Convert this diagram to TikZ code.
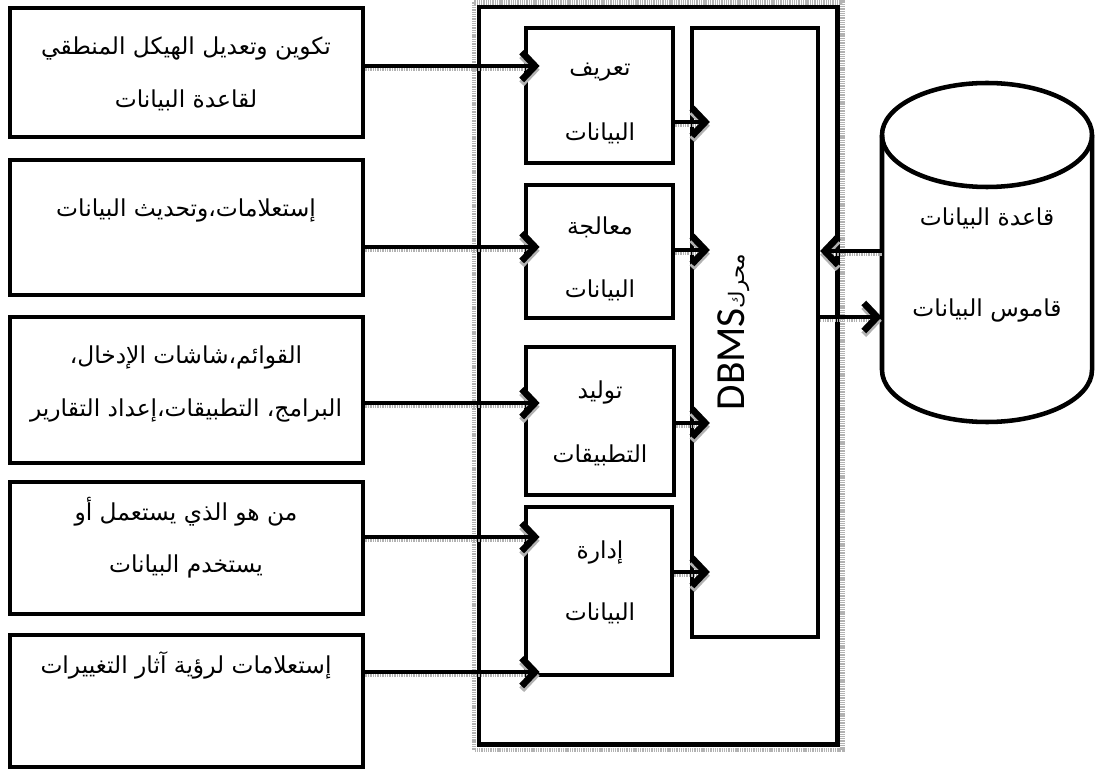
\documentclass[tikz,border=0pt]{standalone}
\usepackage{fontspec}
\setmainfont{DejaVu Sans}
\newfontfamily\arabicfont[Script=Arabic]{DejaVu Sans}
\newfontfamily\latinfont{Carlito}
\TeXXeTstate=1
\usetikzlibrary{arrows.meta,fit}
\tikzset{
  box/.style={draw, line width=3.6pt, inner sep=0pt},
  area/.style={inner sep=0pt},
  txt/.style={font=\arabicfont\fontsize{17.5}{20}\selectfont, inner sep=0pt, anchor=center},
  arr/.style={line width=3.4pt, -{Straight Barb[length=10pt,width=21pt,line width=5pt]},
    preaction={draw=gray!60, line width=2.4pt, dash pattern=on 1pt off 0.8pt,
      transform canvas={yshift=-2.8pt}}},
  into/.style={shorten >=-#1},
  cyl/.style={line width=3.4pt, line join=round},
  shadowband/.style={draw=gray!60, line width=3.2pt, dash pattern=on 1pt off 0.7pt},
}
\begin{document}
\begin{tikzpicture}[x=0.75pt,y=-0.75pt]
\useasboundingbox (0,0) rectangle (1098,773);

% left boxes
\node[box, fit={(10,8) (363,137)}] (L1) {};
\node[box, fit={(10,160) (363,295)}] (L2) {};
\node[box, fit={(10,317) (363,463)}] (L3) {};
\node[box, fit={(10,482) (363,614)}] (L4) {};
\node[box, fit={(10,635) (363,767)}] (L5) {};

\node[txt] (t1a) at (186,48) {\beginR تكوين وتعديل الهيكل المنطقي\endR};
\node[txt] (t1b) at (186,100) {\beginR لقاعدة البيانات\endR};
\node[txt] (t2) at (186,210) {\beginR إستعلامات،وتحديث البيانات\endR};
\node[txt] (t3a) at (186,357) {\beginR القوائم،شاشات الإدخال،\endR};
\node[txt] (t3b) at (186,410) {\beginR البرامج، التطبيقات،إعداد التقارير\endR};
\node[txt] (t4a) at (186,512) {\beginR من هو الذي يستعمل أو\endR};
\node[txt] (t4b) at (186,566) {\beginR يستخدم البيانات\endR};
\node[txt] (t5) at (186,665) {\beginR إستعلامات لرؤية آثار التغييرات\endR};

% outer frame
\draw[shadowband] (474,2.5) rectangle (842.5,750);
\node[box, line width=3.4pt, fit={(479,7) (837.5,744.5)}] (frame) {};

% middle boxes
\node[box, fit={(526,28) (673,163)}] (M1) {};
\node[box, fit={(526,185) (673,318)}] (M2) {};
\node[box, fit={(526,347) (674,495)}] (M3) {};
\node[box, fit={(526,507) (672,675)}] (M4) {};

\node[txt] (m1a) at (600,72) {\beginR تعريف\endR};
\node[txt] (m1b) at (600,133) {\beginR البيانات\endR};
\node[txt] (m2a) at (600,227) {\beginR معالجة\endR};
\node[txt] (m2b) at (600,290) {\beginR البيانات\endR};
\node[txt] (m3a) at (600,392) {\beginR توليد\endR};
\node[txt] (m3b) at (600,455) {\beginR التطبيقات\endR};
\node[txt] (m4a) at (600,552) {\beginR إدارة\endR};
\node[txt] (m4b) at (600,613) {\beginR البيانات\endR};

% DBMS engine
\node[box, line width=3.2pt, fit={(692,28) (818,637)}] (E) {};
\node[rotate=90, inner sep=0pt] (et) at (734,332)
  {\arabicfont\fontsize{16}{18}\selectfont\beginR محرك\beginL{\latinfont\fontsize{31}{34}\selectfont DBMS}\endL\endR};

% cylinder
\node[area, fit={(882,83) (1092,422)}] (DB) {};
\draw[cyl] (987,135) ellipse [x radius=78.75pt, y radius=39pt];
\draw[cyl] (882,135) -- (882,370) arc[start angle=180, end angle=360, x radius=78.75pt, y radius=39pt] -- (1092,135);
\node[txt] (d1) at (987,218) {\beginR قاعدة البيانات\endR};
\node[txt] (d2) at (987,310) {\beginR قاموس البيانات\endR};

% levels
\coordinate (a1) at (0,66);
\coordinate (a2) at (0,247);
\coordinate (a3) at (0,403);
\coordinate (a4) at (0,537);
\coordinate (a5) at (0,672);
\coordinate (b1) at (0,122);
\coordinate (b2) at (0,250);
\coordinate (b3) at (0,423);
\coordinate (b4) at (0,572);
\coordinate (c1) at (0,251);
\coordinate (c2) at (0,317);

% arrows left -> middle
\draw[arr, into=12pt] (L1.east |- a1) -- (M1.west |- a1);
\draw[arr, into=12pt] (L2.east |- a2) -- (M2.west |- a2);
\draw[arr, into=12pt] (L3.east |- a3) -- (M3.west |- a3);
\draw[arr, into=12pt] (L4.east |- a4) -- (M4.west |- a4);
\draw[arr, into=12pt] (L5.east |- a5) -- (M4.west |- a5);

% arrows middle -> engine
\draw[arr, into=15pt] (M1.east |- b1) -- (E.west |- b1);
\draw[arr, into=15pt] (M2.east |- b2) -- (E.west |- b2);
\draw[arr, into=15pt] (M3.east |- b3) -- (E.west |- b3);
\draw[arr, into=15pt] (M4.east |- b4) -- (E.west |- b4);

% engine <-> database
\draw[arr] (DB.west |- c1) -- (E.east |- c1);
\draw[arr] (E.east |- c2) -- (DB.west |- c2);
\end{tikzpicture}
\end{document}
